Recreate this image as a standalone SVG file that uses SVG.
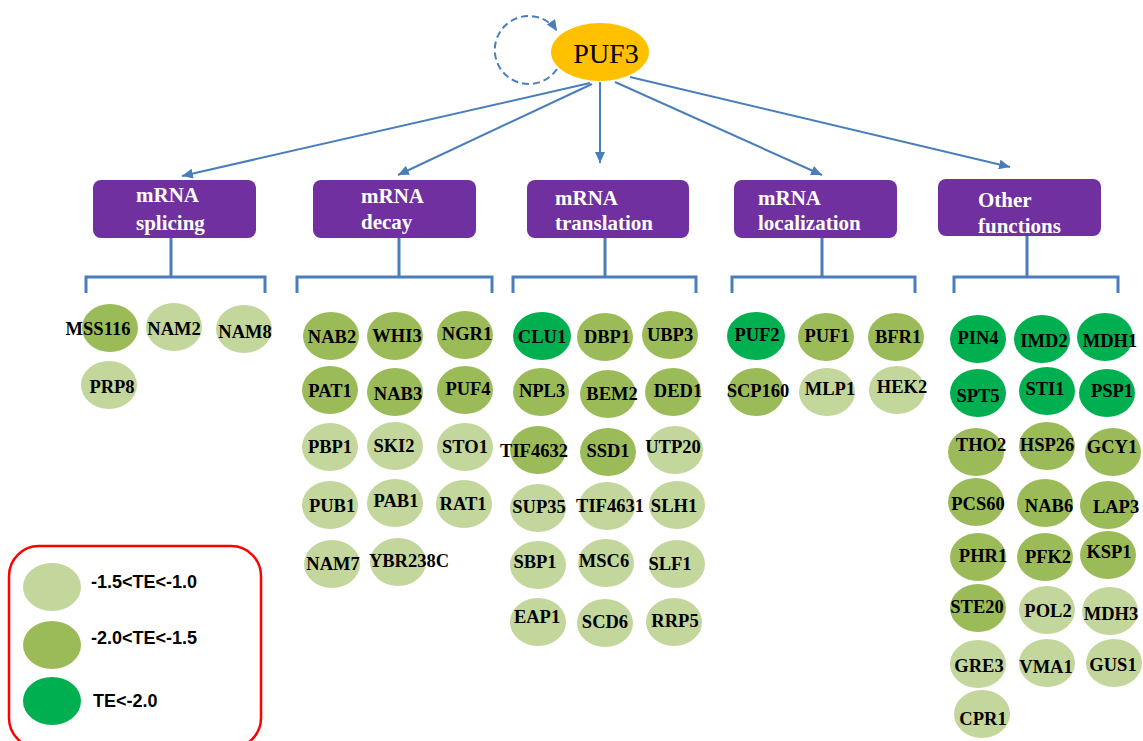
<svg xmlns="http://www.w3.org/2000/svg" width="1143" height="741" viewBox="0 0 1143 741">
<style>
.lt{fill:#C3D69B}.md{fill:#9BBB59}.br{fill:#00B050}
.lbl{font-family:"Liberation Serif","Times New Roman",serif;font-weight:bold;font-size:18.5px;fill:#000;text-anchor:middle}
.cat rect{fill:#7030A0}
.cat text{font-family:"Liberation Serif","Times New Roman",serif;font-weight:bold;font-size:21px;fill:#fff}
.con{stroke:#4A7EBB;stroke-width:2;fill:none}
.brk{stroke:#4A7EBB;stroke-width:3;fill:none}
.leg{font-family:"Liberation Sans",Arial,sans-serif;font-weight:bold;font-size:18px;fill:#000}
</style>
<defs>
<marker id="arr" markerUnits="userSpaceOnUse" markerWidth="12" markerHeight="10" refX="11" refY="5" orient="auto">
<path d="M0,0 L11,5 L0,10 z" fill="#4A7EBB"/>
</marker>
</defs>
<g id="connectors">
<path class="con" d="M557 69 A34 34 0 1 1 557 31" stroke-dasharray="7 4" stroke-width="2.5" marker-end="url(#arr)"/>
<line class="con" x1="590" y1="83" x2="182" y2="176" marker-end="url(#arr)"/>
<line class="con" x1="592" y1="84" x2="398" y2="175" marker-end="url(#arr)"/>
<line class="con" x1="600" y1="82" x2="600" y2="163" marker-end="url(#arr)"/>
<line class="con" x1="615" y1="82" x2="822" y2="175" marker-end="url(#arr)"/>
<line class="con" x1="630" y1="77" x2="1010" y2="167" marker-end="url(#arr)"/>
<path class="brk" d="M171 238 V277 M86 293 V277 H265 V293"/>
<path class="brk" d="M399 238 V277 M297 293 V277 H492 V293"/>
<path class="brk" d="M605 238 V277 M513 293 V277 H696 V293"/>
<path class="brk" d="M822 238 V277 M732 293 V277 H915 V293"/>
<path class="brk" d="M1027 236 V277 M954 293 V277 H1118 V293"/>
</g>
<g id="PUF3">
<ellipse cx="600" cy="52" rx="49" ry="29" fill="#FFC000"/>
<text x="606" y="63" font-family="Liberation Serif,Times New Roman,serif" font-size="28" text-anchor="middle" fill="#000">PUF3</text>
</g>
<g id="cat-splicing" class="cat"><rect x="93" y="180" width="163" height="58" rx="8"/><text x="136" y="202">mRNA</text><text x="136" y="230">splicing</text></g>
<g id="cat-decay" class="cat"><rect x="313" y="180" width="163" height="58" rx="8"/><text x="361" y="203">mRNA</text><text x="361" y="229">decay</text></g>
<g id="cat-translation" class="cat"><rect x="527" y="180" width="162" height="58" rx="8"/><text x="555" y="205">mRNA</text><text x="555" y="230">translation</text></g>
<g id="cat-localization" class="cat"><rect x="734" y="180" width="163" height="58" rx="8"/><text x="758" y="205">mRNA</text><text x="758" y="230">localization</text></g>
<g id="cat-other" class="cat"><rect x="938" y="179" width="163" height="57" rx="8"/><text x="978" y="207">Other</text><text x="978" y="233">functions</text></g>

<g id="MSS116"><ellipse class="md" cx="110" cy="328" rx="28" ry="24"/><text class="lbl" x="98" y="335">MSS116</text></g>
<g id="NAM2"><ellipse class="lt" cx="174" cy="327" rx="28" ry="24"/><text class="lbl" x="174" y="335">NAM2</text></g>
<g id="NAM8"><ellipse class="lt" cx="244" cy="329" rx="28" ry="24"/><text class="lbl" x="245" y="338">NAM8</text></g>
<g id="PRP8"><ellipse class="lt" cx="109" cy="385" rx="28" ry="24"/><text class="lbl" x="112" y="393">PRP8</text></g>

<g id="NAB2"><ellipse class="md" cx="331" cy="336" rx="28" ry="24"/><text class="lbl" x="332" y="343">NAB2</text></g>
<g id="WHI3"><ellipse class="md" cx="395" cy="336" rx="28" ry="24"/><text class="lbl" x="397" y="342">WHI3</text></g>
<g id="NGR1"><ellipse class="md" cx="465" cy="335" rx="28" ry="24"/><text class="lbl" x="467" y="340">NGR1</text></g>
<g id="PAT1"><ellipse class="md" cx="330" cy="390" rx="28" ry="24"/><text class="lbl" x="330" y="397">PAT1</text></g>
<g id="NAB3"><ellipse class="md" cx="395" cy="392" rx="28" ry="24"/><text class="lbl" x="398" y="400">NAB3</text></g>
<g id="PUF4"><ellipse class="md" cx="465" cy="390" rx="28" ry="24"/><text class="lbl" x="468" y="395">PUF4</text></g>
<g id="PBP1"><ellipse class="lt" cx="330" cy="447" rx="28" ry="24"/><text class="lbl" x="330" y="453">PBP1</text></g>
<g id="SKI2"><ellipse class="lt" cx="395" cy="446" rx="28" ry="24"/><text class="lbl" x="394" y="452">SKI2</text></g>
<g id="STO1"><ellipse class="lt" cx="465" cy="447" rx="28" ry="24"/><text class="lbl" x="465" y="453">STO1</text></g>
<g id="PUB1"><ellipse class="lt" cx="330" cy="505" rx="28" ry="24"/><text class="lbl" x="332" y="512">PUB1</text></g>
<g id="PAB1"><ellipse class="lt" cx="395" cy="503" rx="28" ry="24"/><text class="lbl" x="396" y="507">PAB1</text></g>
<g id="RAT1"><ellipse class="lt" cx="464" cy="504" rx="28" ry="24"/><text class="lbl" x="463" y="510">RAT1</text></g>
<g id="NAM7"><ellipse class="lt" cx="332" cy="564" rx="28" ry="24"/><text class="lbl" x="333" y="570">NAM7</text></g>
<g id="YBR238C"><ellipse class="lt" cx="398" cy="562" rx="28" ry="24"/><text class="lbl" x="409" y="567">YBR238C</text></g>

<g id="CLU1"><ellipse class="br" cx="542" cy="336" rx="29" ry="24"/><text class="lbl" x="542" y="343">CLU1</text></g>
<g id="DBP1"><ellipse class="md" cx="605" cy="337" rx="28" ry="24"/><text class="lbl" x="607" y="343">DBP1</text></g>
<g id="UBP3"><ellipse class="md" cx="670" cy="335" rx="28" ry="24"/><text class="lbl" x="670" y="341">UBP3</text></g>
<g id="NPL3"><ellipse class="md" cx="541" cy="392" rx="28" ry="24"/><text class="lbl" x="542" y="397">NPL3</text></g>
<g id="BEM2"><ellipse class="md" cx="608" cy="394" rx="28" ry="24"/><text class="lbl" x="612" y="400">BEM2</text></g>
<g id="DED1"><ellipse class="md" cx="673" cy="392" rx="28" ry="24"/><text class="lbl" x="678" y="397">DED1</text></g>
<g id="TIF4632"><ellipse class="md" cx="538" cy="450" rx="28" ry="24"/><text class="lbl" x="534" y="457">TIF4632</text></g>
<g id="SSD1"><ellipse class="md" cx="608" cy="452" rx="28" ry="24"/><text class="lbl" x="608" y="457">SSD1</text></g>
<g id="UTP20"><ellipse class="lt" cx="675" cy="450" rx="28" ry="24"/><text class="lbl" x="673" y="453">UTP20</text></g>
<g id="SUP35"><ellipse class="lt" cx="538" cy="508" rx="28" ry="24"/><text class="lbl" x="539" y="513">SUP35</text></g>
<g id="TIF4631"><ellipse class="lt" cx="607" cy="506" rx="28" ry="24"/><text class="lbl" x="610" y="512">TIF4631</text></g>
<g id="SLH1"><ellipse class="lt" cx="677" cy="505" rx="28" ry="24"/><text class="lbl" x="674" y="512">SLH1</text></g>
<g id="SBP1"><ellipse class="lt" cx="538" cy="565" rx="28" ry="24"/><text class="lbl" x="535" y="568">SBP1</text></g>
<g id="MSC6"><ellipse class="lt" cx="606" cy="563" rx="28" ry="24"/><text class="lbl" x="604" y="567">MSC6</text></g>
<g id="SLF1"><ellipse class="lt" cx="677" cy="564" rx="28" ry="24"/><text class="lbl" x="670" y="570">SLF1</text></g>
<g id="EAP1"><ellipse class="lt" cx="538" cy="622" rx="28" ry="24"/><text class="lbl" x="537" y="623">EAP1</text></g>
<g id="SCD6"><ellipse class="lt" cx="605" cy="623" rx="28" ry="24"/><text class="lbl" x="605" y="628">SCD6</text></g>
<g id="RRP5"><ellipse class="lt" cx="674" cy="622" rx="28" ry="24"/><text class="lbl" x="675" y="627">RRP5</text></g>

<g id="PUF2"><ellipse class="br" cx="756" cy="336" rx="29" ry="24"/><text class="lbl" x="757" y="341">PUF2</text></g>
<g id="PUF1"><ellipse class="md" cx="826" cy="337" rx="28" ry="24"/><text class="lbl" x="827" y="342">PUF1</text></g>
<g id="BFR1"><ellipse class="md" cx="896" cy="337" rx="28" ry="24"/><text class="lbl" x="898" y="343">BFR1</text></g>
<g id="SCP160"><ellipse class="md" cx="756" cy="392" rx="28" ry="24"/><text class="lbl" x="758" y="397">SCP160</text></g>
<g id="MLP1"><ellipse class="lt" cx="827" cy="392" rx="28" ry="24"/><text class="lbl" x="830" y="395">MLP1</text></g>
<g id="HEK2"><ellipse class="lt" cx="897" cy="390" rx="28" ry="24"/><text class="lbl" x="902" y="393">HEK2</text></g>

<g id="PIN4"><ellipse class="br" cx="978" cy="339" rx="28" ry="24"/><text class="lbl" x="978" y="344">PIN4</text></g>
<g id="IMD2"><ellipse class="br" cx="1042" cy="339" rx="28" ry="24"/><text class="lbl" x="1044" y="347">IMD2</text></g>
<g id="MDH1"><ellipse class="br" cx="1105" cy="337" rx="28" ry="24"/><text class="lbl" x="1110" y="347">MDH1</text></g>
<g id="SPT5"><ellipse class="br" cx="978" cy="393" rx="28" ry="24"/><text class="lbl" x="978" y="402">SPT5</text></g>
<g id="STI1"><ellipse class="br" cx="1047" cy="391" rx="28" ry="24"/><text class="lbl" x="1045" y="395">STI1</text></g>
<g id="PSP1"><ellipse class="br" cx="1107" cy="393" rx="28" ry="24"/><text class="lbl" x="1112" y="397">PSP1</text></g>
<g id="THO2"><ellipse class="md" cx="976" cy="452" rx="28" ry="24"/><text class="lbl" x="981" y="451">THO2</text></g>
<g id="HSP26"><ellipse class="md" cx="1047" cy="446" rx="28" ry="24"/><text class="lbl" x="1047" y="451">HSP26</text></g>
<g id="GCY1"><ellipse class="md" cx="1113" cy="452" rx="28" ry="24"/><text class="lbl" x="1112" y="453">GCY1</text></g>
<g id="PCS60"><ellipse class="md" cx="976" cy="502" rx="28" ry="24"/><text class="lbl" x="978" y="510">PCS60</text></g>
<g id="NAB6"><ellipse class="md" cx="1045" cy="503" rx="28" ry="24"/><text class="lbl" x="1049" y="512">NAB6</text></g>
<g id="LAP3"><ellipse class="md" cx="1108" cy="505" rx="28" ry="24"/><text class="lbl" x="1116" y="513">LAP3</text></g>
<g id="PHR1"><ellipse class="md" cx="978" cy="557" rx="28" ry="24"/><text class="lbl" x="983" y="562">PHR1</text></g>
<g id="PFK2"><ellipse class="md" cx="1045" cy="557" rx="28" ry="24"/><text class="lbl" x="1048" y="563">PFK2</text></g>
<g id="KSP1"><ellipse class="md" cx="1108" cy="555" rx="28" ry="24"/><text class="lbl" x="1109" y="558">KSP1</text></g>
<g id="STE20"><ellipse class="md" cx="978" cy="608" rx="28" ry="24"/><text class="lbl" x="977" y="613">STE20</text></g>
<g id="POL2"><ellipse class="lt" cx="1047" cy="610" rx="28" ry="24"/><text class="lbl" x="1048" y="617">POL2</text></g>
<g id="MDH3"><ellipse class="lt" cx="1110" cy="611" rx="28" ry="24"/><text class="lbl" x="1111" y="620">MDH3</text></g>
<g id="GRE3"><ellipse class="lt" cx="978" cy="664" rx="28" ry="24"/><text class="lbl" x="979" y="672">GRE3</text></g>
<g id="VMA1"><ellipse class="lt" cx="1047" cy="663" rx="28" ry="24"/><text class="lbl" x="1046" y="673">VMA1</text></g>
<g id="GUS1"><ellipse class="lt" cx="1114" cy="663" rx="28" ry="24"/><text class="lbl" x="1113" y="671">GUS1</text></g>
<g id="CPR1"><ellipse class="lt" cx="982" cy="714" rx="28" ry="24"/><text class="lbl" x="983" y="725">CPR1</text></g>

<g id="legend">
<rect x="9" y="546" width="252" height="202" rx="30" fill="none" stroke="#FF0000" stroke-width="2.5"/>
<ellipse class="lt" cx="52" cy="587" rx="29" ry="24"/>
<ellipse class="md" cx="52" cy="645" rx="29" ry="24"/>
<ellipse class="br" cx="52" cy="701" rx="29" ry="24"/>
<text class="leg" x="91" y="588">-1.5&lt;TE&lt;-1.0</text>
<text class="leg" x="91" y="644">-2.0&lt;TE&lt;-1.5</text>
<text class="leg" x="93" y="707">TE&lt;-2.0</text>
</g>
</svg>
